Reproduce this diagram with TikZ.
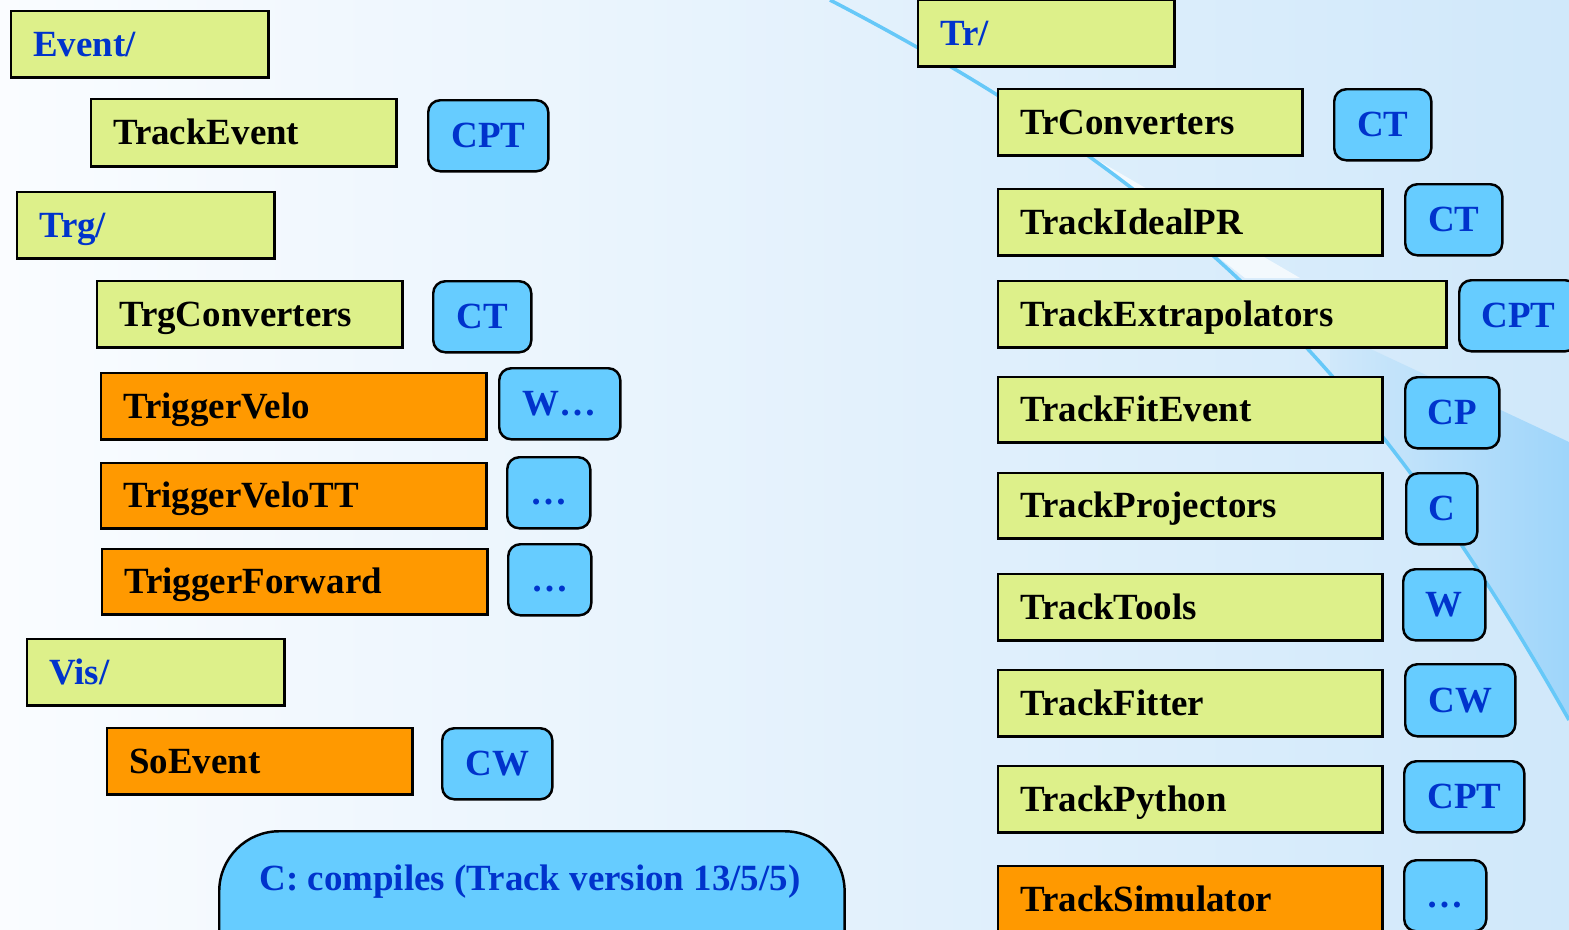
\documentclass[tikz,border=0pt]{standalone}
\usepackage{fontspec}
\setmainfont{Liberation Serif}
\usetikzlibrary{positioning}

\definecolor{pkggreen}{HTML}{DDF08A}
\definecolor{trigorange}{HTML}{FF9900}
\definecolor{flagblue}{HTML}{66CCFF}
\definecolor{labelblue}{HTML}{0033CC}
\definecolor{curveblue}{HTML}{66C8F8}
\definecolor{bgleft}{HTML}{FAFCFF}
\definecolor{bgright}{HTML}{D0E8FA}
\definecolor{wedgeblue}{HTML}{9ED5FA}

\begin{document}
\begin{tikzpicture}[x=0.01cm,y=-0.01cm,
    every node/.style={font=\fontsize{10.5}{12}\selectfont\bfseries},
    pkg/.style={draw,line width=0.7pt,rectangle,fill=pkggreen,anchor=north west,
        align=left,inner xsep=0.22cm,inner ysep=0pt,text height=6.95pt,text depth=0pt},
    dir/.style={pkg,text=labelblue},
    trig/.style={pkg,fill=trigorange},
    flag/.style={draw,line width=0.7pt,rectangle,rounded corners=0.12cm,fill=flagblue,
        text=labelblue,anchor=north west,inner sep=0pt,text height=6.95pt,text depth=0pt}]
    \useasboundingbox (0,0) rectangle (1569,929);
    \clip (0,0) rectangle (1569,929);
    % background
    \shade[left color=bgleft,right color=bgright] (0,0) rectangle (1569,929);
    \begin{scope}
        \clip (830,0) .. controls (1180,182) and (1369,366) .. (1569,720) -- (1569,0) -- cycle;
        \shade[left color=bgright,right color=wedgeblue] (1330,330) -- (1569,442)
            -- (1569,929) -- (1330,929) -- cycle;
    \end{scope}
    \fill[white,opacity=.7] (1087,154) -- (1300,278) -- (1245,278) -- cycle;
    \draw[curveblue,line width=1pt] (830,0) .. controls (1180,182) and (1369,366) .. (1569,720);

    % left column
    \node[dir,text width=2.13cm,minimum height=0.66cm] (event) at (10,10) {Event/};
    \node[pkg,text width=2.61cm,minimum height=0.67cm] (trackevent) at (90,98) {TrackEvent};
    \node[flag,minimum width=1.20cm,minimum height=0.71cm] (trackeventflag) at (427,99) {CPT};
    \node[dir,text width=2.13cm,minimum height=0.66cm] (trg) at (16,191) {Trg/};
    \node[pkg,text width=2.61cm,minimum height=0.66cm] (trgconv) at (96,280) {TrgConverters};
    \node[flag,minimum width=0.98cm,minimum height=0.71cm] (trgconvflag) at (432,280) {CT};
    \node[trig,text width=3.41cm,minimum height=0.66cm] (trigvelo) at (100,372) {TriggerVelo};
    \node[flag,minimum width=1.21cm,minimum height=0.71cm] (trigveloflag) at (498,367) {W\ldots};
    \node[trig,text width=3.41cm,minimum height=0.65cm] (trigvelott) at (100,462) {TriggerVeloTT};
    \node[flag,minimum width=0.83cm,minimum height=0.71cm] (trigvelottflag) at (506,456) {\ldots};
    \node[trig,text width=3.41cm,minimum height=0.65cm] (trigfwd) at (101,548) {TriggerForward};
    \node[flag,minimum width=0.83cm,minimum height=0.71cm] (trigfwdflag) at (507,543) {\ldots};
    \node[dir,text width=2.13cm,minimum height=0.66cm] (vis) at (26,638) {Vis/};
    \node[trig,text width=2.61cm,minimum height=0.66cm] (soevent) at (106,727) {SoEvent};
    \node[flag,minimum width=1.10cm,minimum height=0.71cm] (soeventflag) at (441,727) {CW};

    % legend
    \node[draw,line width=0.7pt,rounded corners=0.6cm,fill=flagblue,anchor=north west,
        minimum width=6.25cm,minimum height=2cm] (legend) at (218,830) {};
    \node[text=labelblue] (legendtext) at (530,882) {C: compiles (Track version 13/5/5)};

    % right column
    \node[dir,text width=2.12cm,minimum height=0.66cm] (tr) at (917,-1) {Tr/};
    \node[pkg,text width=2.60cm,minimum height=0.66cm] (trconv) at (997,88) {TrConverters};
    \node[flag,minimum width=0.97cm,minimum height=0.71cm] (trconvflag) at (1333,88) {CT};
    \node[pkg,text width=3.40cm,minimum height=0.66cm] (idealpr) at (997,188) {TrackIdealPR};
    \node[flag,minimum width=0.97cm,minimum height=0.71cm] (idealprflag) at (1404,183) {CT};
    \node[pkg,text width=4.04cm,minimum height=0.66cm] (extrap) at (997,280) {TrackExtrapolators};
    \node[flag,minimum width=1.18cm,minimum height=0.71cm] (extrapflag) at (1458,279) {CPT};
    \node[pkg,text width=3.40cm,minimum height=0.65cm] (fitevent) at (997,376) {TrackFitEvent};
    \node[flag,minimum width=0.94cm,minimum height=0.71cm] (fiteventflag) at (1404,376) {CP};
    \node[pkg,text width=3.40cm,minimum height=0.65cm] (projectors) at (997,472) {TrackProjectors};
    \node[flag,minimum width=0.71cm,minimum height=0.71cm] (projectorsflag) at (1405,472) {C};
    \node[pkg,text width=3.40cm,minimum height=0.66cm] (tools) at (997,573) {TrackTools};
    \node[flag,minimum width=0.82cm,minimum height=0.71cm] (toolsflag) at (1402,568) {W};
    \node[pkg,text width=3.40cm,minimum height=0.66cm] (fitter) at (997,669) {TrackFitter};
    \node[flag,minimum width=1.10cm,minimum height=0.72cm] (fitterflag) at (1404,663) {CW};
    \node[pkg,text width=3.40cm,minimum height=0.66cm] (python) at (997,765) {TrackPython};
    \node[flag,minimum width=1.20cm,minimum height=0.71cm] (pythonflag) at (1403,760) {CPT};
    \node[trig,text width=3.40cm,minimum height=0.66cm] (simulator) at (997,865) {TrackSimulator};
    \node[flag,minimum width=0.82cm,minimum height=0.71cm] (simulatorflag) at (1403,859) {\ldots};
\end{tikzpicture}
\end{document}
